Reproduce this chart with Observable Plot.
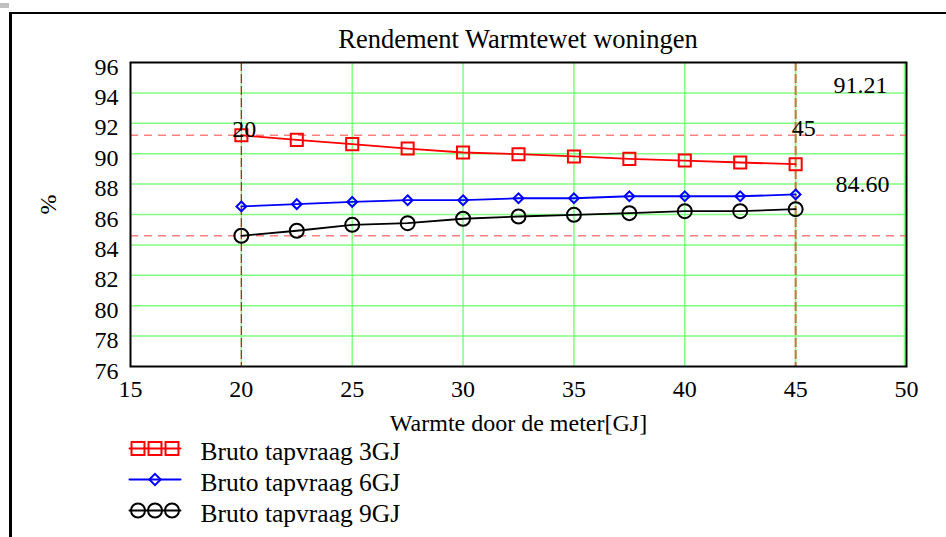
<!DOCTYPE html>
<html><head><meta charset="utf-8">
<script src="https://cdn.jsdelivr.net/npm/d3@7"></script>
<script src="https://cdn.jsdelivr.net/npm/@observablehq/plot@0.6"></script>
<style>
body{margin:0;background:#fff;width:946px;height:537px;overflow:hidden;position:relative;font-family:"Liberation Serif","Times New Roman",serif;}
#chip{position:absolute;left:0;top:3px;width:9px;height:5px;background:#c0c0c0;}
#frame{position:absolute;left:9px;top:12px;width:2000px;height:2000px;border-left:3px solid #000;border-top:2px solid #000;}
#title{position:absolute;left:130px;width:776px;top:24px;text-align:center;font-size:26.5px;line-height:30px;white-space:nowrap;}
#main{position:absolute;left:0;top:50px;}
#legend{position:absolute;left:0;top:435px;}
</style></head><body>
<div id="chip"></div>
<div id="frame"></div>
<div id="title">Rendement Warmtewet woningen</div>
<div id="main"></div>
<div id="legend"></div>
<script>
const xValues = [20, 22.5, 25, 27.5, 30, 32.5, 35, 37.5, 40, 42.5, 45];
const series3GJ = [91.21, 90.91, 90.63, 90.34, 90.08, 89.97, 89.82, 89.66, 89.55, 89.42, 89.31];
const series6GJ = [86.53, 86.68, 86.83, 86.94, 86.94, 87.07, 87.07, 87.20, 87.20, 87.20, 87.32];
const series9GJ = [84.60, 84.93, 85.32, 85.43, 85.72, 85.87, 85.98, 86.09, 86.22, 86.22, 86.35];
const seriesNames = ["Bruto tapvraag 3GJ", "Bruto tapvraag 6GJ", "Bruto tapvraag 9GJ"];
const seriesColors = ["#ff0000", "#0000ff", "#000000"];
const seriesSymbols = ["square", "diamond2", "circle"];
const xTicks = [15, 20, 25, 30, 35, 40, 45, 50];
const yTicks = [76, 78, 80, 82, 84, 86, 88, 90, 92, 94, 96];
const markerX = [20, 45];
const markerY = [91.21, 84.60];
const titleText = "Rendement Warmtewet woningen";
const xLabel = "Warmte door de meter[GJ]";
const yLabel = "%";

const seriesValues = [series3GJ, series6GJ, series9GJ];
const rows = seriesNames.flatMap((name, i) => xValues.map((x, j) => ({name, x, y: seriesValues[i][j]})));
const FONT = "Liberation Serif, Times New Roman, serif";
const dotR = [6.8, 4.4, 7];
const dotSW = [2, 2, 2];

const xMin = xTicks[0], xMax = xTicks[xTicks.length - 1];
const yMin = yTicks[0], yMax = yTicks[yTicks.length - 1];

const main = Plot.plot({
  width: 946, height: 390,
  marginTop: 12, marginBottom: 74, marginLeft: 130, marginRight: 40,
  style: {fontFamily: FONT, fontSize: "24px", color: "black", background: "transparent", overflow: "visible"},
  x: {domain: [xMin, xMax]},
  y: {domain: [yMin, yMax]},
  color: {domain: seriesNames, range: seriesColors},
  marks: [
    Plot.ruleY(yTicks.filter(v => v > yMin && v < yMax), {stroke: "#80ff80", strokeWidth: 1.5}),
    Plot.ruleX(xTicks.filter(v => v > xMin && v < xMax), {stroke: "#80ff80", strokeWidth: 1.5}),
    Plot.ruleX([xMax], {stroke: "#80ff80", strokeWidth: 1.5, dx: -2}),
    Plot.ruleY(markerY, {stroke: "#ff8080", strokeWidth: 1.6, strokeDasharray: "8,6"}),
    Plot.ruleX([markerX[0]], {stroke: "#ff0000", strokeWidth: 1.2, strokeDasharray: "9,3"}),
    Plot.ruleX([markerX[1]], {stroke: "#c07a3a", strokeWidth: 2, strokeDasharray: "9,3"}),
    Plot.line(rows, {x: "x", y: "y", z: "name", stroke: "name", strokeWidth: 1.8}),
    ...seriesNames.map((n, i) => Plot.dot(rows.filter(d => d.name === n), {
      x: "x", y: "y", symbol: seriesSymbols[i], r: dotR[i], stroke: seriesColors[i], strokeWidth: dotSW[i], fill: "none"
    })),
    Plot.frame({stroke: "black", strokeWidth: 2}),
    Plot.axisX({ticks: xTicks, tickSize: 0, tickPadding: 13, label: null, fontSize: 24}),
    Plot.axisY({ticks: yTicks, tickSize: 0, tickPadding: 12, dy: 4.5, label: null, fontSize: 24}),
    Plot.text([xLabel], {frameAnchor: "bottom", lineAnchor: "middle", dy: 57, fontSize: 24}),
    Plot.text([yLabel], {frameAnchor: "left", lineAnchor: "middle", dx: -82, rotate: -90, fontSize: 24}),
    Plot.text([{x: markerX[0], y: markerY[0]}], {x: "x", y: "y", text: d => String(d.x), lineAnchor: "bottom", dx: 3, dy: 2, fontSize: 24}),
    Plot.text([{x: markerX[1], y: markerY[0]}], {x: "x", y: "y", text: d => String(d.x), lineAnchor: "bottom", dx: 8, dy: 1, fontSize: 24}),
    Plot.text([markerY[0].toFixed(2)], {frameAnchor: "top-right", lineAnchor: "middle", textAnchor: "end", dx: -19, dy: 22.5, fontSize: 24}),
    Plot.text([markerY[1].toFixed(2)], {frameAnchor: "top-right", lineAnchor: "middle", textAnchor: "end", dx: -17, dy: 121.5, fontSize: 24})
  ]
});
document.getElementById("main").appendChild(main);

const legendLine = seriesNames.flatMap(name => [0, 1].map(x => ({name, x})));
const legendDots = [
  ...[1/6, 1/2, 5/6].map(x => ({name: seriesNames[0], x})),
  {name: seriesNames[1], x: 1/2},
  ...[1/6, 1/2, 5/6].map(x => ({name: seriesNames[2], x}))
];
const legendR = [7.3, 5.1, 7];
const legend = Plot.plot({
  width: 420, height: 100,
  margin: 0,
  style: {fontFamily: FONT, fontSize: "25px", color: "black", background: "transparent", overflow: "visible"},
  x: {domain: [0, 1], range: [129, 180], axis: null},
  y: {type: "point", domain: seriesNames, range: [12.5, 74.5], padding: 0, axis: null},
  color: {domain: seriesNames, range: seriesColors},
  marks: [
    Plot.line(legendLine, {x: "x", y: "name", z: "name", stroke: "name", strokeWidth: 2}),
    ...seriesNames.map((n, i) => Plot.dot(legendDots.filter(d => d.name === n), {
      x: "x", y: "name", symbol: seriesSymbols[i], r: legendR[i], stroke: seriesColors[i], strokeWidth: 2, fill: "none"
    })),
    Plot.text(seriesNames, {x: () => 1, y: d => d, dx: 20, dy: 3, textAnchor: "start", lineAnchor: "middle", fontSize: 25.5})
  ]
});
document.getElementById("legend").appendChild(legend);
document.getElementById("title").textContent = titleText;
</script>
</body></html>
